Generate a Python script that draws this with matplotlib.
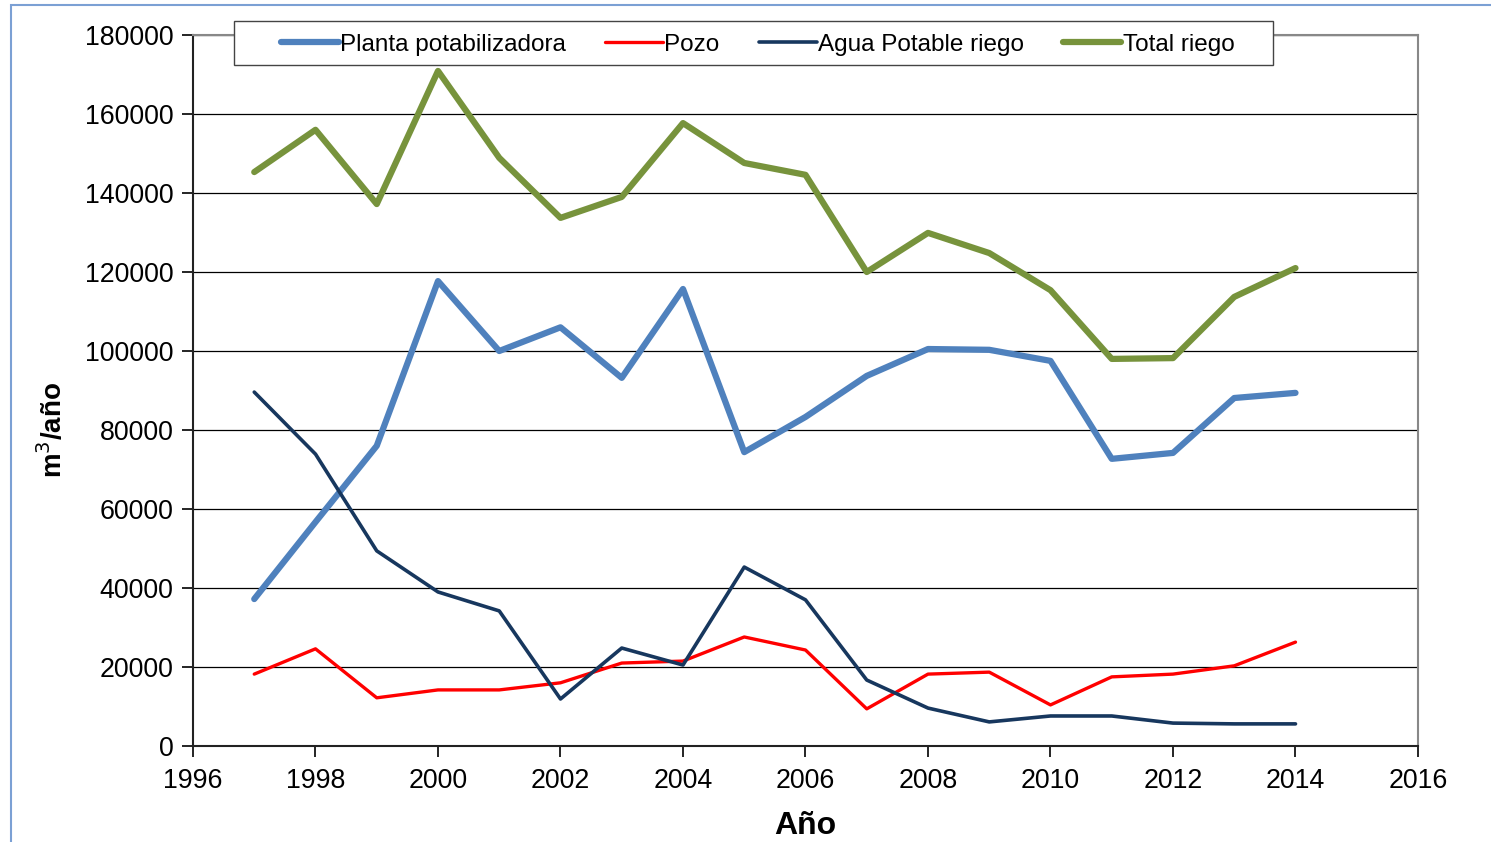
import matplotlib.pyplot as plt
from matplotlib.patches import Rectangle

plt.rcParams['font.family'] = ['Liberation Sans', 'DejaVu Sans']

# Data
years = [1997, 1998, 1999, 2000, 2001, 2002, 2003, 2004, 2005,
         2006, 2007, 2008, 2009, 2010, 2011, 2012, 2013, 2014]
planta = [37200, 56700, 76000, 117700, 100000, 106000, 93200, 115700, 74400,
          83300, 93700, 100500, 100300, 97500, 72700, 74200, 88100, 89400]
pozo = [18200, 24600, 12200, 14200, 14200, 16000, 21000, 21500, 27600,
        24300, 9400, 18200, 18700, 10400, 17500, 18200, 20300, 26300]
agua_potable = [89600, 73900, 49400, 39000, 34200, 11900, 24800, 20500, 45300,
                37000, 16700, 9600, 6100, 7600, 7600, 5800, 5600, 5600]
total_riego = [145300, 156000, 137200, 170900, 148900, 133700, 139000, 157700, 147600,
               144600, 120000, 129900, 124800, 115400, 98000, 98200, 113700, 121000]

fig = plt.figure(figsize=(14.91, 8.42), dpi=100)
ax = fig.add_axes([193 / 1491, 1 - 746 / 842, 1225 / 1491, 711 / 842])

# light blue frame around the chart area
fig.patches.append(Rectangle((11 / 1491, -0.01), 1.0, 1 - 5 / 842 + 0.01,
                             transform=fig.transFigure, fill=False,
                             edgecolor='#7BA0D4', linewidth=1.5))

ax.plot(years, planta, color='#4F81BD', lw=4.5, label='Planta potabilizadora',
        solid_capstyle='round', solid_joinstyle='round')
ax.plot(years, pozo, color='#FF0000', lw=2.4, label='Pozo',
        solid_capstyle='round', solid_joinstyle='round')
ax.plot(years, agua_potable, color='#17375E', lw=2.6, label='Agua Potable riego',
        solid_capstyle='round', solid_joinstyle='round')
ax.plot(years, total_riego, color='#77933C', lw=4.5, label='Total riego',
        solid_capstyle='round', solid_joinstyle='round')

ax.set_xlim(1996, 2016)
ax.set_ylim(0, 180000)
ax.set_xticks(range(1996, 2017, 2))
ax.set_yticks(range(0, 180001, 20000))
ax.yaxis.grid(True, color='black', lw=0.9)
ax.set_axisbelow(True)

for s in ['top', 'right']:
    ax.spines[s].set_color('#888888')
    ax.spines[s].set_linewidth(1.5)
for s in ['left', 'bottom']:
    ax.spines[s].set_color('#222222')
    ax.spines[s].set_linewidth(1.5)

ax.tick_params(direction='out', length=8, width=1.2, labelsize=19.3)
ax.tick_params(axis='x', pad=8)
ax.tick_params(axis='y', pad=6)

ax.set_xlabel('Año', fontsize=23, fontweight='bold', labelpad=12)
ax.set_ylabel('m$^3$/año', fontsize=20, fontweight='bold')
ax.yaxis.set_label_coords(-0.102, 0.4444)

# legend box drawn separately so it matches the original padding
box = Rectangle((41 / 1225, 1 - 30 / 711), 1039 / 1225, 44 / 711, transform=ax.transAxes,
                facecolor='white', edgecolor='#444444', lw=1.0, clip_on=False, zorder=4.9)
ax.add_patch(box)
leg = ax.legend(loc='center', bbox_to_anchor=(0.4608, 1 - 10 / 711),
                ncol=4, fontsize=17.5, frameon=False,
                handlelength=2.4, handletextpad=0.05, columnspacing=1.6,
                borderaxespad=0, borderpad=0)

fig.savefig('out.png', dpi=100)
